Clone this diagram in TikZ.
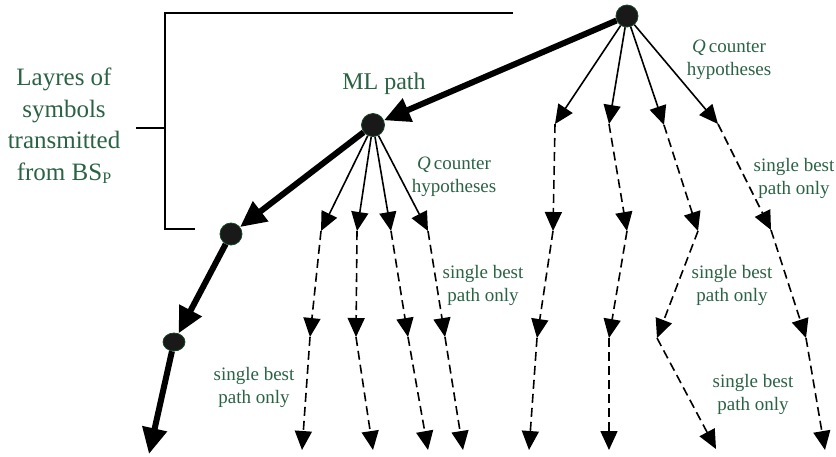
\documentclass[tikz,border=0pt]{standalone}
\usepackage{fontspec}
\setmainfont{Liberation Serif}
\usepackage{xcolor}
\usepackage{tikz}
\usetikzlibrary{arrows.meta,shapes}
\definecolor{labgreen}{RGB}{42,98,68}
\definecolor{dotgreen}{RGB}{20,70,40}
\tikzset{dot/.style={circle,fill=black!90,draw=dotgreen,line width=0.8pt,inner sep=0pt,minimum size=22pt},
         sdot/.style={ellipse,fill=black!90,draw=dotgreen,line width=0.8pt,inner sep=0pt,minimum width=22pt,minimum height=18pt},
         ml/.style={line width=6pt,-{Triangle[length=26pt,width=24pt]}},
         hyp/.style={line width=1.6pt,-{Triangle[length=19pt,width=17pt]}},
         best/.style={line width=1.6pt,dash pattern=on 9pt off 5pt,-{Triangle[length=19pt,width=17pt]}},
         lab/.style={text=labgreen,align=center,font=\fontsize{19}{23}\selectfont},
         brace/.style={line width=1.7pt}}

\begin{document}
\begin{tikzpicture}[x=1pt,y=-1pt]
    \useasboundingbox (0,0) rectangle (836,456);

    % layer bracket
    \coordinate (t1) at (165,13);
    \coordinate (t2) at (513,13);
    \coordinate (t3) at (165,229);
    \coordinate (t4) at (195,229);
    \coordinate (t5) at (165,128);
    \coordinate (t6) at (136,128);
    \draw [brace] (t2) -- (t1) -- (t3) -- (t4);
    \draw [brace] (t5) -- (t6);
    \node[lab,font=\fontsize{25}{31.5}\selectfont] (lay) at (64,126)
        {Layres of\\symbols\\transmitted\\from BS\raisebox{-0.3ex}{\fontsize{16}{16}\selectfont P}};

    % ML path
    \node[dot] (a) at (627,16) {};
    \node[dot,minimum size=23pt] (b) at (373,125) {};
    \node[dot] (c) at (231,234) {};
    \node[sdot] (d) at (174,342) {};
    \coordinate (e) at (149,454);
    \draw [ml] (a) to (b);
    \draw [ml] (b) to (c);
    \draw [ml] (c) to (d);
    \draw [ml] (d) to (e);

    % counter hypotheses of the first layer
    \coordinate (f1) at (555,124);
    \coordinate (f2) at (609,124);
    \coordinate (f3) at (664,125);
    \coordinate (f4) at (718,124);
    \coordinate (g1) at (553,231);
    \coordinate (g2) at (627,231);
    \coordinate (g3) at (698,231);
    \coordinate (g4) at (771,230);
    \coordinate (h1) at (537,338);
    \coordinate (h2) at (609,338);
    \coordinate (h3) at (657,338);
    \coordinate (h4) at (806,338);
    \coordinate (i1) at (529,450);
    \coordinate (i2) at (609,450);
    \coordinate (i3) at (716,449);
    \coordinate (i4) at (825,450);
    \draw [hyp] (a) to (f1);
    \draw [hyp] (a) to (f2);
    \draw [hyp] (a) to (f3);
    \draw [hyp] (a) to (f4);
    \draw [best] (f1) to (g1);
    \draw [best] (f2) to (g2);
    \draw [best] (f3) to (g3);
    \draw [best] (f4) to (g4);
    \draw [best] (g1) to (h1);
    \draw [best] (g2) to (h2);
    \draw [best] (g3) to (h3);
    \draw [best] (g4) to (h4);
    \draw [best] (h1) to (i1);
    \draw [best] (h2) to (i2);
    \draw [best] (h3) to (i3);
    \draw [best] (h4) to (i4);

    % counter hypotheses of the second layer
    \coordinate (j1) at (321,231);
    \coordinate (j2) at (357,231);
    \coordinate (j3) at (391,231);
    \coordinate (j4) at (428,231);
    \coordinate (k1) at (310,337);
    \coordinate (k2) at (356,337);
    \coordinate (k3) at (408,337);
    \coordinate (k4) at (445,337);
    \coordinate (l1) at (302,450);
    \coordinate (l2) at (373,450);
    \coordinate (l3) at (428,450);
    \coordinate (l4) at (463,450);
    \draw [hyp] (b) to (j1);
    \draw [hyp] (b) to (j2);
    \draw [hyp] (b) to (j3);
    \draw [hyp] (b) to (j4);
    \draw [best] (j1) to (k1);
    \draw [best] (j2) to (k2);
    \draw [best] (j3) to (k3);
    \draw [best] (j4) to (k4);
    \draw [best] (k1) to (l1);
    \draw [best] (k2) to (l2);
    \draw [best] (k3) to (l3);
    \draw [best] (k4) to (l4);

    % labels
    \node[lab,font=\fontsize{24}{28}\selectfont] (m) at (384,84) {ML path};
    \node[lab] (q1) at (729,60) {\textit{Q}\,counter\\hypotheses};
    \node[lab] (q2) at (454,177) {\textit{Q}\,counter\\hypotheses};
    \node[lab] (s1) at (794,178) {single best\\path only};
    \node[lab] (s2) at (483,285) {single best\\path only};
    \node[lab] (s3) at (732,285) {single best\\path only};
    \node[lab] (s4) at (753,394) {single best\\path only};
    \node[lab] (s5) at (254,387) {single best\\path only};
\end{tikzpicture}
\end{document}
